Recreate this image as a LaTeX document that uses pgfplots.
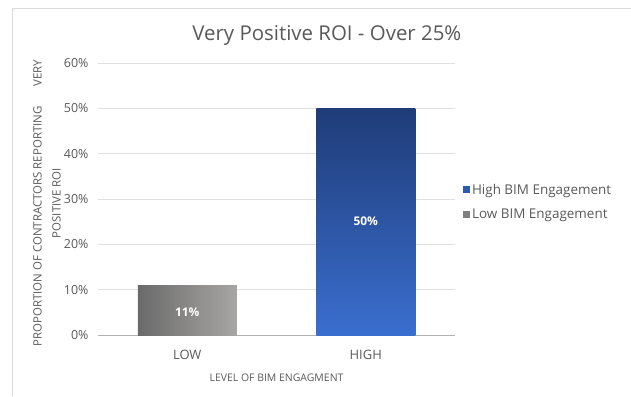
\documentclass[border=0pt]{standalone}
\usepackage{pgfplots}
\pgfplotsset{compat=1.18}
\usepackage{fontspec}
\setmainfont{Open Sans}
\definecolor{txt}{HTML}{595959}
\definecolor{highTop}{HTML}{1F3C78}
\definecolor{highBot}{HTML}{3A6ECF}
\definecolor{highLeg}{HTML}{2E5BAF}
\definecolor{lowL}{HTML}{6A6A6A}
\definecolor{lowR}{HTML}{A8A6A4}
\definecolor{lowLeg}{HTML}{7F7F7F}
\begin{document}
\begin{tikzpicture}[x=1bp,y=1bp]
\path[use as bounding box] (0,0) rectangle (631,396);
\draw[color=black!15, line width=0.8bp] (12,0) -- (12,388) -- (631,388);
\begin{axis}[
  at={(98bp,61bp)}, anchor=south west,
  scale only axis, width=357bp, height=272bp,
  xmin=-0.5, xmax=1.5, ymin=0, ymax=60,
  ytick={0,10,...,60},
  yticklabel={\pgfmathprintnumber{\tick}\%},
  /pgf/number format/assume math mode=true,
  ymajorgrids, grid style={color=black!12, line width=0.6bp},
  axis x line*=bottom, axis y line*=left,
  x axis line style={draw=black!30, line width=0.8bp, -},
  y axis line style={draw=none},
  major y tick style={draw=none},
  xtick={0,1}, xticklabels={LOW,HIGH},
  major x tick style={draw=none},
  extra x ticks={-0.5,0.5,1.5}, extra x tick labels={},
  extra x tick style={major tick length=5bp, tick align=outside, major tick style={draw=black!30, line width=0.8bp}},
  yticklabel style={font=\fontsize{12.5}{14}\selectfont, text=txt, xshift=-6bp},
  xticklabel style={font=\fontsize{13}{15}\selectfont, text=txt, yshift=-12bp},
  title={Very Positive ROI - Over 25\%},
  every axis title/.style={at={(axis description cs:0.641,1.103)}, anchor=center, font=\fontsize{20.5}{24}\selectfont, text=txt},
  xlabel={LEVEL OF BIM ENGAGMENT},
  every axis x label/.style={at={(axis description cs:0.5,-0.158)}, anchor=center, font=\fontsize{10.5}{12}\selectfont, text=txt},
  ylabel={PROPORTION OF CONTRACTORS REPORTING\hspace{20bp}VERY\\POSITIVE ROI},
  every axis y label/.style={at={(axis description cs:-0.143,0.485)}, anchor=center, rotate=90, align=center, font=\fontsize{11.5}{19}\selectfont, text=txt},
  legend style={draw=none, fill=none, at={(1.022,0.49)}, anchor=west, font=\fontsize{13.5}{16}\selectfont, text=txt, row sep=9bp, inner xsep=0pt},
  legend cell align=left,
  legend image code/.code={\fill[#1, draw=none] (0bp,-3.5bp) rectangle (7bp,3.5bp);},
]
\addlegendimage{fill=highLeg, draw=none}
\addlegendentry{High BIM Engagement}
\addlegendimage{fill=lowLeg, draw=none}
\addlegendentry{Low BIM Engagement}
\addplot[ybar, bar shift=0pt, bar width=99bp, draw=none, left color=lowL, right color=lowR, forget plot] coordinates {(0,11)};
\addplot[ybar, bar shift=0pt, bar width=99bp, draw=none, top color=highTop, bottom color=highBot, forget plot] coordinates {(1,50)};
\addplot[draw=none, mark=none, forget plot, nodes near coords, point meta=explicit symbolic,
  nodes near coords style={anchor=center, text=white, font=\bfseries\fontsize{12}{14}\selectfont}]
  coordinates {(0,5) [11\%] (1,25) [50\%]};
\end{axis}
\end{tikzpicture}
\end{document}
